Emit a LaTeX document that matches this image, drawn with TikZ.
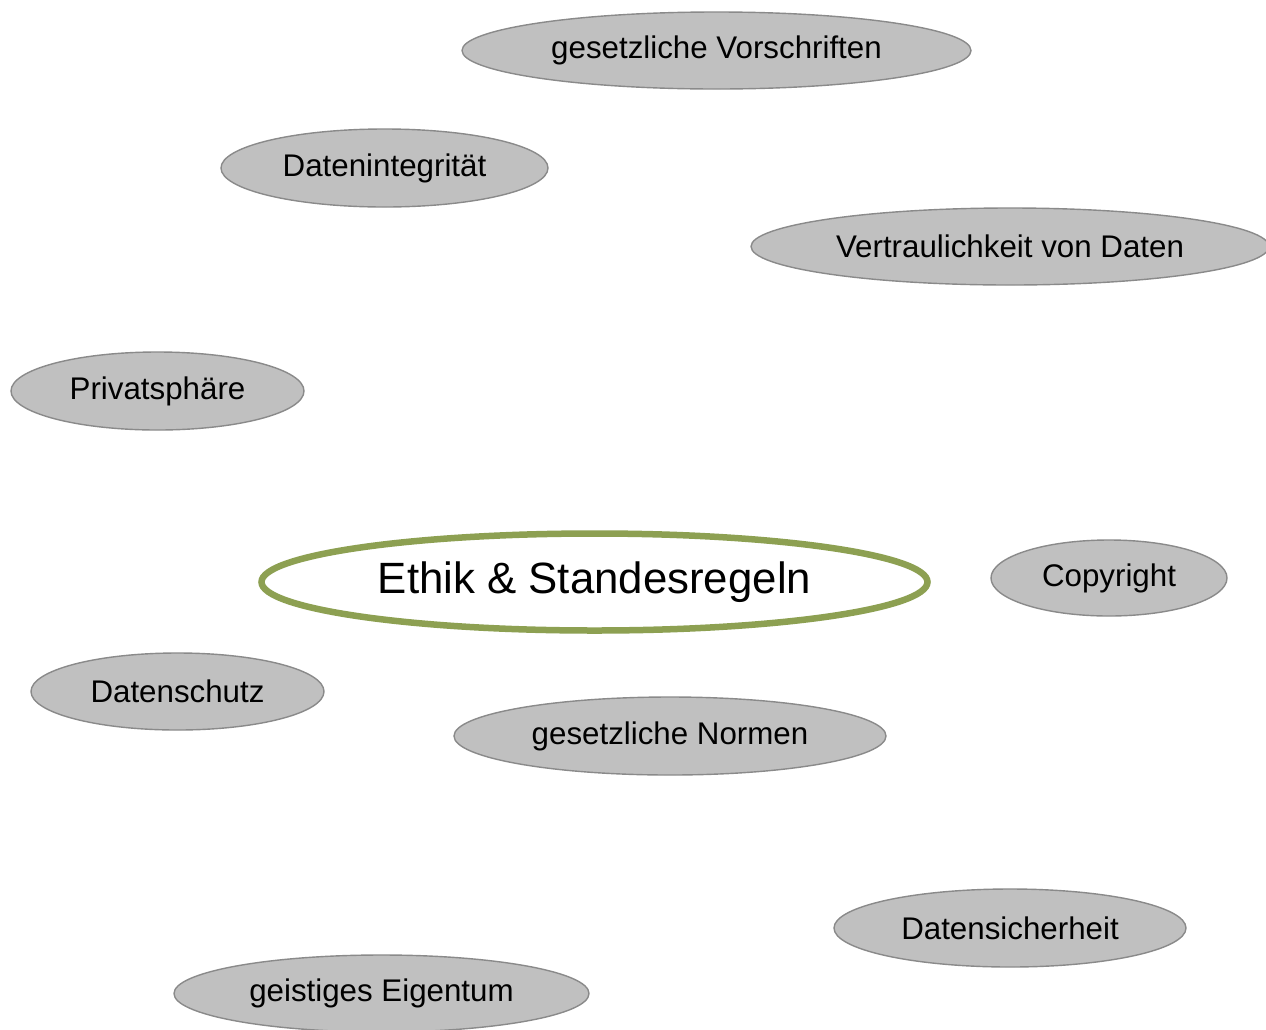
\documentclass[tikz,border=0pt]{standalone}
\usepackage{fontspec}
\setmainfont{Liberation Sans}
\usetikzlibrary{shapes.geometric}
\definecolor{topicfill}{HTML}{C0C0C0}
\definecolor{topicline}{HTML}{8A8A8A}
\definecolor{coreline}{HTML}{8DA052}
\tikzset{
  topic/.style={ellipse, draw=topicline, line width=1.4pt, fill=topicfill,
    inner sep=0pt, font=\fontsize{31.3}{35}\selectfont, text=black},
  core/.style={ellipse, draw=coreline, line width=6.5pt, fill=white,
    inner sep=0pt, font=\fontsize{43.8}{50}\selectfont, text=black}
}
\begin{document}
\begin{tikzpicture}[x=1pt,y=-1pt]
\useasboundingbox (0,0) rectangle (1266,1029);
\clip (0,0) rectangle (1266,1029);
\fill[white] (0,0) rectangle (1266,1029);

\node[topic, minimum width=509pt, minimum height=77pt] (vorschriften) at (716.5,50.5) {gesetzliche Vorschriften};
\node[topic, minimum width=327pt, minimum height=78pt] (integritaet) at (384.5,168) {Datenintegrität};
\node[topic, minimum width=518pt, minimum height=77pt] (vertraulichkeit) at (1010,246.5) {Vertraulichkeit von Daten};
\node[topic, minimum width=293pt, minimum height=78pt] (privatsphaere) at (157.5,391) {Privatsphäre};
\node[core, minimum width=666pt, minimum height=97pt] (ethik) at (594.5,582) {Ethik \& Standesregeln};
\node[topic, minimum width=236pt, minimum height=76pt] (copyright) at (1109,578) {Copyright};
\node[topic, minimum width=293pt, minimum height=77pt] (datenschutz) at (177.5,691.5) {Datenschutz};
\node[topic, minimum width=432pt, minimum height=78pt] (normen) at (670,736) {gesetzliche Normen};
\node[topic, minimum width=352pt, minimum height=78pt] (sicherheit) at (1010,928) {Datensicherheit};
\node[topic, minimum width=415pt, minimum height=77pt] (eigentum) at (381.5,993.5) {geistiges Eigentum};
\end{tikzpicture}
\end{document}
